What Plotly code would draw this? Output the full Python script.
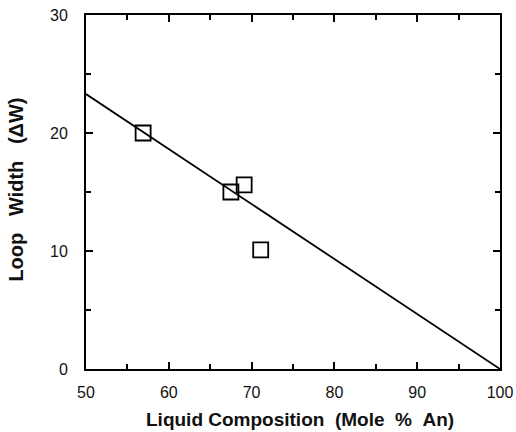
import plotly.graph_objects as go

# Data
liquid_an = [56.9, 67.5, 69.1, 71.1]
loop_width = [20.0, 15.0, 15.6, 10.1]
fit_x = [50, 100]
fit_y = [23.3, 0.0]

x_ticks = [50, 60, 70, 80, 90, 100]
y_ticks = [0, 10, 20, 30]

FONT = "Liberation Sans, Arial, sans-serif"
NB = "\u00a0"

fig = go.Figure()
fig.add_trace(go.Scatter(x=fit_x, y=fit_y, mode="lines",
                         line=dict(color="black", width=1.8), showlegend=False))
fig.add_trace(go.Scatter(x=liquid_an, y=loop_width, mode="markers",
                         marker=dict(symbol="square-open", size=15, color="black",
                                     line=dict(width=1.8, color="black")),
                         showlegend=False))

axis_common = dict(showgrid=False, zeroline=False, showline=True, linecolor="black",
                   linewidth=1.8, mirror="allticks", ticks="inside", ticklen=7,
                   tickwidth=1.5, tickcolor="black", automargin=False,
                   tickfont=dict(family=FONT, size=16, color="#111"))

fig.update_xaxes(range=[50, 100], tickvals=x_ticks, ticktext=[str(v) for v in x_ticks],
                 minor=dict(dtick=5, ticks="inside", ticklen=5, tickwidth=1.5, tickcolor="black"),
                 ticklabelstandoff=8, **axis_common)
fig.update_yaxes(range=[0, 30], tickvals=y_ticks, ticktext=[str(v) for v in y_ticks],
                 minor=dict(dtick=5, ticks="inside", ticklen=5, tickwidth=1.5, tickcolor="black"),
                 ticklabelstandoff=13, **axis_common)

fig.add_annotation(text="<b>Liquid" + NB + "Composition" + NB * 2 + "(Mole" + NB * 2 + "%" + NB * 2 + "An)</b>",
                   xref="paper", yref="paper", x=0.517, y=-0.144,
                   xanchor="center", yanchor="middle", showarrow=False,
                   font=dict(family=FONT, size=19, color="#111"))
fig.add_annotation(text="<b>Loop" + NB * 3 + "Width" + NB * 3 + "(ΔW)</b>",
                   xref="paper", yref="paper", x=-0.168, y=0.508, textangle=-90,
                   xanchor="center", yanchor="middle", showarrow=False,
                   font=dict(family=FONT, size=20, color="#111"))

fig.update_layout(width=516, height=432, margin=dict(l=86, r=16, t=15, b=63),
                  plot_bgcolor="white", paper_bgcolor="white")

# remove the default 8px page margin so the figure fills the window
fig.write_html("out.html", config={"displayModeBar": False},
               post_script="document.body.style.margin='0';")
